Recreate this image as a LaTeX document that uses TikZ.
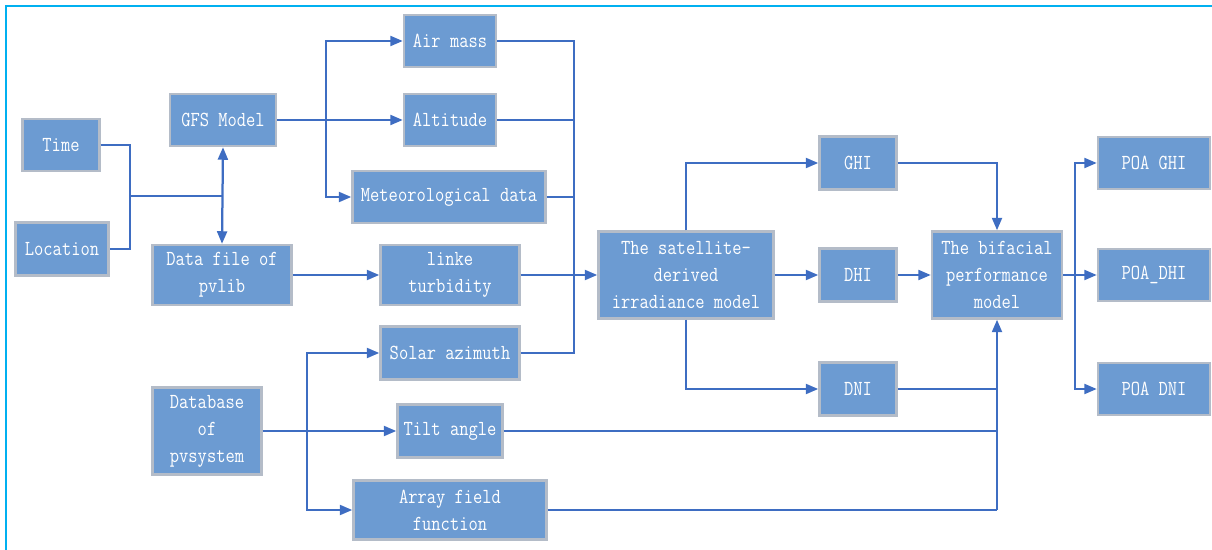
\documentclass[tikz,border=0pt]{standalone}
\usepackage{fontspec}
\usepackage{tikz}
\usetikzlibrary{arrows.meta}
\setmonofont[FakeStretch=0.84]{Latin Modern Mono}
\definecolor{boxFill}{HTML}{6C9BD2}
\definecolor{boxEdge}{HTML}{B4BCC8}
\definecolor{wireBlue}{HTML}{3E6DC2}
\definecolor{frameCyan}{HTML}{00B0F0}

\begin{document}
\begin{tikzpicture}[
			x=0.02cm, y=-0.02cm,
			block/.style={
				rectangle, draw=boxEdge, fill=boxFill, line width=0.05cm,
				text=white, font=\ttfamily\fontsize{12.2pt}{15.4pt}\selectfont,
				inner sep=0pt, align=center,
				minimum width=1.54cm, minimum height=1.04cm
			},
			wire/.style={line width=0.045cm, wireBlue},
			arrow/.style={wire, -{Triangle[length=0.25cm, width=0.2cm]}},
			both/.style={wire, {Triangle[length=0.25cm, width=0.2cm]}-{Triangle[length=0.25cm, width=0.2cm]}}
			]
			
			\useasboundingbox (0,0) rectangle (1212,550);
			\draw[frameCyan, line width=0.05cm] (6,550) -- (6,6) -- (1212,6);
			
			% inputs
			\node[block] (time) at (61,145) {Time};
			\node[block, minimum width=1.86cm, minimum height=1.06cm] (location) at (62,249) {Location};
			\node[block, minimum width=2.12cm] (gfs) at (223,120) {GFS Model};
			\node[block, minimum width=2.78cm, minimum height=1.2cm] (datafile) at (222,275)
			{Data file of\\pvlib};
			\node[block, minimum width=2.18cm, minimum height=1.74cm] (database) at (207,431)
			{Database\\of\\pvsystem};
			
			% parameters
			\node[block, minimum width=1.84cm] (airmass) at (450,41) {Air mass};
			\node[block, minimum width=1.84cm] (altitude) at (450,120) {Altitude};
			\node[block, minimum width=3.86cm] (meteo) at (449,197) {Meteorological data};
			\node[block, minimum width=2.78cm, minimum height=1.2cm] (linke) at (450,275)
			{linke\\turbidity};
			\node[block, minimum width=2.78cm, minimum height=1.06cm] (azimuth) at (450,353) {Solar azimuth};
			\node[block, minimum width=2.1cm, minimum height=1.06cm] (tilt) at (450,431) {Tilt angle};
			\node[block, minimum width=3.86cm, minimum height=1.18cm] (array) at (450,510)
			{Array field\\function};
			
			% models and outputs
			\node[block, minimum width=3.5cm, minimum height=1.74cm] (satellite) at (686,275)
			{The satellite-\\derived\\irradiance model};
			\node[block, minimum height=1.06cm] (ghi) at (858,163) {GHI};
			\node[block, minimum height=1.06cm] (dhi) at (858,275) {DHI};
			\node[block, minimum height=1.06cm] (dni) at (858,389) {DNI};
			\node[block, minimum width=2.6cm, minimum height=1.74cm] (bifacial) at (997,275)
			{The bifacial\\performance\\model};
			\node[block, minimum width=2.24cm] (poaghi) at (1154,163) {POA GHI};
			\node[block, minimum width=2.24cm] (poadhi) at (1154,275) {POA\_DHI};
			\node[block, minimum width=2.24cm] (poadni) at (1154,389) {POA DNI};
			
			\coordinate (tl) at (130,196);
			\coordinate (gsplit) at (326,120);
			\coordinate (bus) at (574,275);
			\coordinate (dsplit) at (307,431);
			\coordinate (bjoin) at (997,510);
			\coordinate (psplit) at (1075,275);
			
			\draw[wire] (time.east) -| (tl) |- (location.east);
			\draw[wire] (tl) -- (tl -| gfs.south);
			\draw[both] (gfs.south) -- (datafile.north);
			
			\draw[arrow] (gfs.east) -- (altitude.west);
			\draw[arrow] (gsplit) |- (airmass.west);
			\draw[arrow] (gsplit) |- (meteo.west);
			\draw[arrow] (datafile.east) -- (linke.west);
			
			\draw[wire] (airmass.east) -| (bus);
			\draw[wire] (altitude.east) -| (bus);
			\draw[wire] (meteo.east) -| (bus);
			\draw[wire] (azimuth.east) -| (bus);
			\draw[arrow] (linke.east) -- (satellite.west);
			
			\draw[arrow] (database.east) -- (tilt.west);
			\draw[arrow] (dsplit) |- (azimuth.west);
			\draw[arrow] (dsplit) |- (array.west);
			
			\draw[arrow] (satellite.north) |- (ghi.west);
			\draw[arrow] (satellite.east) -- (dhi.west);
			\draw[arrow] (satellite.south) |- (dni.west);
			
			\draw[arrow] (ghi.east) -| (bifacial.north);
			\draw[arrow] (dhi.east) -- (bifacial.west);
			\draw[wire] (dni.east) -| (bjoin);
			\draw[wire] (tilt.east) -- (tilt.east -| bjoin);
			\draw[wire] (array.east) -- (bjoin);
			\draw[arrow] (bjoin) -- (bifacial.south);
			
			\draw[arrow] (bifacial.east) -- (poadhi.west);
			\draw[arrow] (psplit) |- (poaghi.west);
			\draw[arrow] (psplit) |- (poadni.west);
			
		\end{tikzpicture}
\end{document}
